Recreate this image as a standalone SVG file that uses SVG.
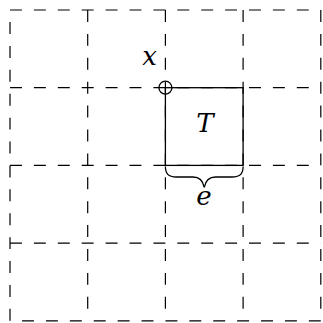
<svg xmlns="http://www.w3.org/2000/svg" width="323" height="323" viewBox="0 0 323 323">
<style>
.grid{stroke:#000;stroke-width:1.2;stroke-dasharray:11.95 11.95;fill:none}
.solid{stroke:#000;stroke-width:1.3;fill:none}
.lbl{font-family:'DejaVu Serif',serif;font-style:italic;font-size:26px;fill:#000;text-anchor:middle}
</style>
<rect width="323" height="323" fill="#fff"/>
<g id="grid">
<line class="grid" x1="10" y1="10" x2="320.8" y2="10"/>
<line class="grid" x1="10" y1="87.7" x2="320.8" y2="87.7"/>
<line class="grid" x1="10" y1="165.4" x2="320.8" y2="165.4"/>
<line class="grid" x1="10" y1="243.1" x2="320.8" y2="243.1"/>
<line class="grid" x1="320.8" y1="320.8" x2="10" y2="320.8"/>
<line class="grid" x1="10" y1="320.8" x2="10" y2="10"/>
<line class="grid" x1="87.7" y1="10" x2="87.7" y2="320.8"/>
<line class="grid" x1="165.4" y1="10" x2="165.4" y2="320.8"/>
<line class="grid" x1="243.1" y1="10" x2="243.1" y2="320.8"/>
<line class="grid" x1="320.8" y1="10" x2="320.8" y2="320.8"/>
</g>
<g id="cellT">
<rect class="solid" x="165.4" y="87.7" width="77.7" height="77.7"/>
<text class="lbl" x="205" y="131.7">T</text>
</g>
<g id="pointX">
<circle class="solid" cx="165.4" cy="87.7" r="6.5"/>
<text class="lbl" x="149.5" y="64.7">x</text>
</g>
<g id="braceE">
<path class="solid" d="M165.4,166.5 C165.4,173.5 168,177 176.5,177 L193,177 C199.5,177 203,180.5 204.25,187.5 C205.5,180.5 209,177 215.5,177 L232,177 C240.5,177 243.1,173.5 243.1,166.5"/>
<text class="lbl" x="204" y="205">e</text>
</g>
</svg>
